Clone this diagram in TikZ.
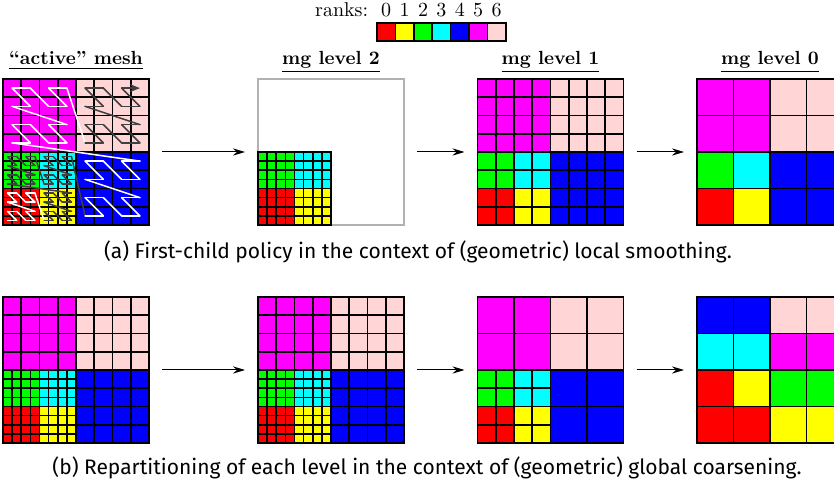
\documentclass[tikz,border=0pt]{standalone}
\usepackage{fontspec}
\newfontfamily\capfont{Fira Sans}
\usetikzlibrary{calc,arrows.meta}
\definecolor{rk0}{RGB}{255,0,0}
\definecolor{rk1}{RGB}{255,255,0}
\definecolor{rk2}{RGB}{0,255,0}
\definecolor{rk3}{RGB}{0,255,255}
\definecolor{rk4}{RGB}{0,0,255}
\definecolor{rk5}{RGB}{255,0,255}
\definecolor{rk6}{RGB}{255,213,213}
\definecolor{sfcdark}{RGB}{64,64,64}
\tikzstyle{panel}=[minimum size=73pt,inner sep=0pt,outer sep=0pt]
\tikzstyle{cell}=[draw=black,line width=0.8pt]
\tikzstyle{rankbox}=[draw,line width=0.8pt,minimum width=9.2pt,minimum height=9pt,inner sep=0pt]
\tikzstyle{head}=[anchor=base,font=\fontsize{9.5}{11}\selectfont\bfseries]
\tikzstyle{captext}=[anchor=base,font=\capfont\fontsize{10.5}{12}\selectfont]
\tikzstyle{flow}=[-{Stealth[length=6pt,width=3.6pt]},line width=0.5pt,shorten <=6.5pt,shorten >=6.5pt]
\tikzstyle{trail}=[line width=0.75pt,line cap=round]
\tikzset{fine/.style={shift={(#1.south west)},x=4.5625pt,y=4.5625pt}}
\newcommand{\cells}[5]{\foreach \ci in {1,...,#3} \foreach \cj in {1,...,#3}
  \draw[cell,fill=#5] ({#1+(\ci-1)*#4},{#2+(\cj-1)*#4}) rectangle +(#4,#4);}
\newcommand{\finequad}[1]{\cells{0}{0}{#1}{4/#1}{rk0}\cells{4}{0}{#1}{4/#1}{rk1}
  \cells{0}{4}{#1}{4/#1}{rk2}\cells{4}{4}{#1}{4/#1}{rk3}}
\newcommand{\coarsequads}[1]{\cells{8}{0}{#1}{8/#1}{rk4}\cells{0}{8}{#1}{8/#1}{rk5}
  \cells{8}{8}{#1}{8/#1}{rk6}}
\newcommand{\mortonpt}[2]{%
  \pgfmathtruncatemacro{\mn}{#1}%
  \ifnum\mn<64
    \pgfmathsetmacro{\mx}{mod(\mn,2)+2*mod(floor(\mn/4),2)+4*mod(floor(\mn/16),2)+0.5}%
    \pgfmathsetmacro{\my}{mod(floor(\mn/2),2)+2*mod(floor(\mn/8),2)+4*floor(\mn/32)+0.5}%
  \else
    \pgfmathtruncatemacro{\mq}{floor((\mn-64)/16)}%
    \pgfmathtruncatemacro{\mk}{mod(\mn-64,16)}%
    \pgfmathsetmacro{\mx}{2*mod(\mk,2)+4*mod(floor(\mk/4),2)+1+8*(\mq!=1)}%
    \pgfmathsetmacro{\my}{2*mod(floor(\mk/2),2)+4*floor(\mk/8)+1+8*(\mq>0)}%
  \fi
  \coordinate (#2) at (\mx,\my);}

\begin{document}
\begin{tikzpicture}[x=0.5pt,y=0.5pt]
\clip (0,0) rectangle (834,487);
\node[panel] (actA) at (76,335) {};
\node[panel] (mgtwoA) at (331,335) {};
\node[panel] (mgoneA) at (550.5,335) {};
\node[panel] (mgzeroA) at (770,335) {};
\node[panel] (actB) at (76,117) {};
\node[panel] (mgtwoB) at (331,117) {};
\node[panel] (mgoneB) at (550.5,117) {};
\node[panel] (mgzeroB) at (770,117) {};
\node[head] (hdact) at ($(actA.north)+(0,14)$) {\underline{``active'' mesh}};
\node[head] (hdtwo) at ($(mgtwoA.north)+(0,14)$) {\underline{mg level 2}};
\node[head] (hdone) at ($(mgoneA.north)+(0,14)$) {\underline{mg level 1}};
\node[head] (hdzero) at ($(mgzeroA.north)+(0,14)$) {\underline{mg level 0}};
\foreach \c [count=\k from 0] in {rk0,rk1,rk2,rk3,rk4,rk5,rk6} {
  \node[rankbox,fill=\c] (r\k) at ({386.2+18.4*\k},455) {};
  \node[anchor=base] (n\k) at ($(r\k.north)+(0,6)$) {\k};
}
\node[anchor=base east] (ranks) at ($(r0.north west)+(-1,6)$) {ranks:};
\begin{scope}[fine=actA]
\finequad{4}\coarsequads{4}
\draw[cell] (0,0) rectangle (16,16);
\foreach \n in {0,...,110} {
  \mortonpt{\n}{sa}\mortonpt{\n+1}{sb}
  \ifnum\n<16 \def\tc{white}\else\ifnum\n<64 \def\tc{sfcdark}\else\ifnum\n<96 \def\tc{white}\else\def\tc{sfcdark}\fi\fi\fi
  \ifnum\n=110 \draw[trail,draw=\tc,-{Stealth[length=5pt,width=4pt]}] (sa) -- (sb);
  \else \draw[trail,draw=\tc] (sa) -- (sb);\fi
}
\end{scope}
\begin{scope}[fine=mgtwoA]
\draw[line width=0.8pt,draw=black!30] (0,0) rectangle (16,16);
\finequad{4}
\draw[cell] (0,0) rectangle (8,8);
\end{scope}
\begin{scope}[fine=mgoneA]
\finequad{2}\coarsequads{4}
\draw[cell] (0,0) rectangle (16,16);
\end{scope}
\begin{scope}[fine=mgzeroA]
\finequad{1}\coarsequads{2}
\draw[cell] (0,0) rectangle (16,16);
\end{scope}
\begin{scope}[fine=actB]
\finequad{4}\coarsequads{4}
\draw[cell] (0,0) rectangle (16,16);
\end{scope}
\begin{scope}[fine=mgtwoB]
\finequad{4}\coarsequads{4}
\draw[cell] (0,0) rectangle (16,16);
\end{scope}
\begin{scope}[fine=mgoneB]
\finequad{2}\coarsequads{2}
\draw[cell] (0,0) rectangle (16,16);
\end{scope}
\begin{scope}[fine=mgzeroB]
\foreach \c [count=\k from 0] in {rk0,rk0,rk1,rk1,rk0,rk1,rk2,rk2,rk3,rk3,rk5,rk5,rk4,rk4,rk6,rk6}
  \draw[cell,fill=\c] ({4*mod(\k,4)},{4*floor(\k/4)}) rectangle +(4,4);
\draw[cell] (0,0) rectangle (16,16);
\end{scope}
\draw[flow] (actA) -- (mgtwoA);
\draw[flow] (mgtwoA) -- (mgoneA);
\draw[flow] (mgoneA) -- (mgzeroA);
\draw[flow] (actB) -- (mgtwoB);
\draw[flow] (mgtwoB) -- (mgoneB);
\draw[flow] (mgoneB) -- (mgzeroB);
\node[captext] (capA) at (418,228.5) {(a) First-child policy in the context of (geometric) local smoothing.};
\node[captext] (capB) at (427,12.5) {(b) Repartitioning of each level in the context of (geometric) global coarsening.};
\end{tikzpicture}
\end{document}
